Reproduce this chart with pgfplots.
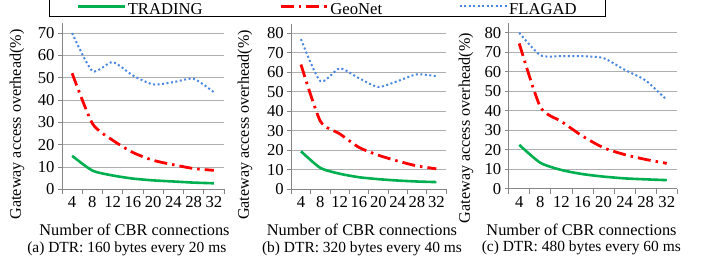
\documentclass[border=0pt]{standalone}
\usepackage{pgfplots}
\pgfplotsset{compat=1.18}
\usepackage{fontspec}
\setmainfont{Liberation Serif}
\definecolor{cgreen}{RGB}{0,176,80}
\definecolor{cred}{RGB}{255,0,0}
\definecolor{cblue}{RGB}{75,135,225}
\definecolor{cgrid}{RGB}{175,175,175}
\definecolor{caxis}{RGB}{134,134,134}
\newcommand{\fs}[1]{\fontsize{#1}{#1}\selectfont}
\pgfplotsset{
  panel/.style={
    scale only axis, anchor=south west,
    xmin=0.5, xmax=8.5, ymin=0,
    xtick={1,...,8}, xticklabels={4,8,12,16,20,24,28,32},
    minor xtick={0.5,1.5,...,8.5},
    major x tick style={draw=none},
    minor x tick style={draw=caxis, line width=0.8bp},
    minor tick length=5bp,
    major tick length=4bp,
    tick align=outside,
    ytick style={draw=caxis, line width=0.8bp},
    axis x line*=bottom, axis y line*=left,
    axis line style={draw=caxis, line width=0.8bp, -},
    ymajorgrids, grid style={cgrid, line width=0.8bp},
    tick label style={font=\fs{16.7}},
    /pgf/number format/assume math mode=true,
    xlabel style={font=\fs{16.4}},
    ylabel style={font=\fs{16.2}},
    xlabel={Number of CBR connections},
    ylabel={Gateway access overhead(\%)},
    clip=false,
  },
  trading/.style={cgreen, line width=2.6bp, smooth, tension=0.4},
  geonet/.style={cred, line width=2.8bp, smooth, tension=0.4, dash pattern=on 13bp off 5bp on 2.5bp off 5bp},
  flagad/.style={cblue, line width=2bp, smooth, tension=0.4, dash pattern=on 2bp off 2.5bp},
}
\begin{document}
\begin{tikzpicture}
\useasboundingbox (0,0) rectangle (710bp,-265bp);
% (a)
\begin{axis}[panel, at={(62bp,-189.3bp)}, width=162bp, height=166.3bp, ymax=74.5,
  ytick={0,10,...,70},
  xlabel style={at={(axis description cs:0.4475,-0.245)}, anchor=center},
  ylabel style={at={(axis description cs:-0.278,0.39)}, anchor=center},
  legend columns=3,
  legend image code/.code={\draw[#1] (0bp,0bp) -- (47bp,0bp);},
  legend style={at={(axis description cs:-0.0784,1.0343)}, anchor=south west,
    draw=black, line width=0.8bp, font=\fs{16.7}, inner xsep=27bp, inner ysep=1bp,
    nodes={inner xsep=1.5bp, inner ysep=1bp, text height=17bp, text depth=0bp},
    /tikz/every even column/.append style={column sep=75bp},
    /tikz/column 4/.append style={column sep=96bp}},
]
\addplot[trading] coordinates {(1,15) (2,8.4) (3,6.2) (4,4.8) (5,4.0) (6,3.5) (7,3.0) (8,2.7)};
\addlegendentry{TRADING}
\addplot[geonet] coordinates {(1,52) (2,29.5) (3,22) (4,16.5) (5,13) (6,11) (7,9.3) (8,8.5)};
\addlegendentry{GeoNet}
\addplot[flagad] coordinates {(1,70) (2,53) (3,57) (4,51) (5,47) (6,48) (7,49.5) (8,43.5)};
\addlegendentry{FLAGAD}
\node[font=\fs{15.5}] at (axis description cs:0.4,-0.355) {(a) DTR: 160 bytes every 20 ms};
\end{axis}
% (b)
\begin{axis}[panel, at={(291.3bp,-189.3bp)}, width=154.7bp, height=165.3bp, ymax=84.8,
  ytick={0,10,...,80},
  xlabel style={at={(axis description cs:0.457,-0.246)}, anchor=center},
  ylabel style={at={(axis description cs:-0.299,0.389)}, anchor=center},
]
\addplot[trading] coordinates {(1,19.5) (2,11) (3,8) (4,6.2) (5,5.2) (6,4.5) (7,4) (8,3.7)};
\addplot[geonet] coordinates {(1,64) (2,35) (3,28.5) (4,21.5) (5,17.5) (6,14.5) (7,12) (8,10.5)};
\addplot[flagad] coordinates {(1,77) (2,55.5) (3,62) (4,57) (5,52.5) (6,55.5) (7,59) (8,58)};
\node[font=\fs{15.5}] at (axis description cs:0.457,-0.357) {(b) DTR: 320 bytes every 40 ms};
\end{axis}
% (c)
\begin{axis}[panel, at={(508.7bp,-188.7bp)}, width=168.6bp, height=165.7bp, ymax=85,
  ytick={0,10,...,80},
  xlabel style={at={(axis description cs:0.432,-0.249)}, anchor=center},
  ylabel style={at={(axis description cs:-0.253,0.366)}, anchor=center},
]
\addplot[trading] coordinates {(1,22.5) (2,13.3) (3,9.6) (4,7.5) (5,6.2) (6,5.3) (7,4.8) (8,4.4)};
\addplot[geonet] coordinates {(1,74.5) (2,42) (3,34.5) (4,27) (5,21) (6,17.5) (7,15) (8,13)};
\addplot[flagad] coordinates {(1,80) (2,68.5) (3,68) (4,68) (5,67) (6,61) (7,55.5) (8,45.5)};
\node[font=\fs{15.5}] at (axis description cs:0.4305,-0.359) {(c) DTR: 480 bytes every 60 ms};
\end{axis}
\end{tikzpicture}
\end{document}
